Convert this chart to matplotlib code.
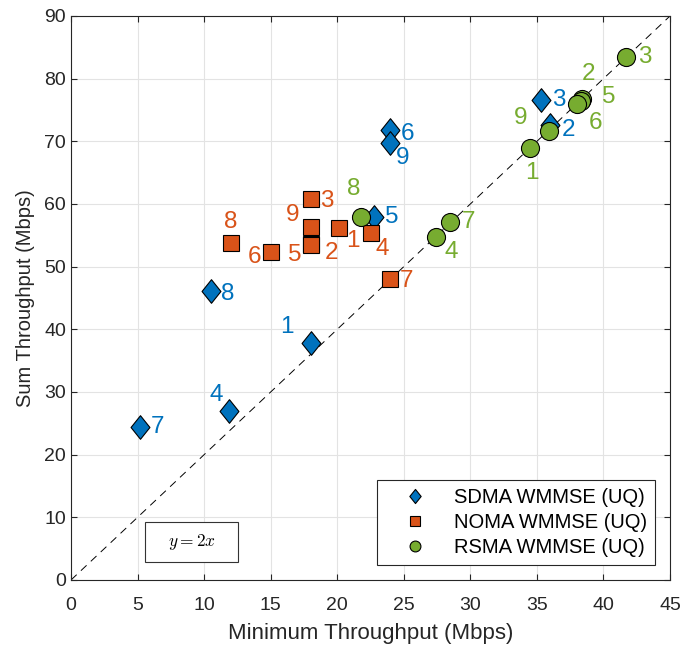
import matplotlib
matplotlib.use("Agg")
import matplotlib.pyplot as plt
from matplotlib.path import Path
from matplotlib.patches import Rectangle
import numpy as np

plt.rcParams['font.family'] = ['Liberation Sans', 'DejaVu Sans']
plt.rcParams['mathtext.fontset'] = 'cm'

labels = ['1', '2', '3', '4', '5', '6', '7', '8', '9']

sdma_x = [18.0, 36.0, 35.3, 11.9, 22.8, 24.0, 5.2, 10.5, 24.0]
sdma_y = [37.8, 72.6, 76.6, 27.0, 58.0, 71.8, 24.4, 46.1, 69.7]

noma_x = [20.1, 18.0, 18.0, 22.5, 18.0, 15.0, 24.0, 12.0, 18.0]
noma_y = [56.1, 53.6, 60.8, 55.3, 53.4, 52.4, 48.0, 53.8, 56.4]

rsma_x = [34.5, 38.4, 41.7, 27.4, 38.3, 38.0, 28.5, 21.8, 35.9]
rsma_y = [69.0, 76.8, 83.5, 54.8, 76.5, 76.0, 57.2, 57.9, 71.7]

series_names = ['SDMA WMMSE (UQ)', 'NOMA WMMSE (UQ)', 'RSMA WMMSE (UQ)']

# label offsets in pixels (dx right, dy down)
sdma_off = [(-24, -16), (18, 5), (18, 0), (-13, -16), (17, 0), (17, 4), (17, 0), (17, 3), (12, 15)]
noma_off = [(14, 13), (21, 9), (16, 2), (12, 16), (-16, 10), (-16, 5), (16, 2), (0, -21), (-18, -12)]
rsma_off = [(2, 25), (6, -25), (19, 0), (16, 15), (28, -4), (19, 19), (18, 0), (-7, -28), (-28, -13)]

c_sdma = '#0072BD'
c_noma = '#D95319'
c_rsma = '#77AC30'

diamond = Path([(0, 1), (0.8, 0), (0, -1), (-0.8, 0), (0, 1)],
               [Path.MOVETO, Path.LINETO, Path.LINETO, Path.LINETO, Path.CLOSEPOLY])

fig = plt.figure(figsize=(6.83, 6.48), dpi=100)
ax = fig.add_axes([71/683, 1-580/648, (670-71)/683, (580-16)/648])

ax.set_xlim(0, 45)
ax.set_ylim(0, 90)
ax.set_xticks(np.arange(0, 46, 5))
ax.set_yticks(np.arange(0, 91, 10))
ax.grid(True, color='#e3e3e3', linewidth=0.8)
ax.set_axisbelow(True)

ax.plot([0, 45], [0, 90], linestyle=(0, (8, 6)), color='black', linewidth=0.7, zorder=1)

h1, = ax.plot(sdma_x, sdma_y, linestyle='none', marker=diamond, markersize=17,
              markerfacecolor=c_sdma, markeredgecolor='black', markeredgewidth=0.8, zorder=3)
h2, = ax.plot(noma_x, noma_y, linestyle='none', marker='s', markersize=12,
              markerfacecolor=c_noma, markeredgecolor='black', markeredgewidth=0.8, zorder=3)
h3, = ax.plot(rsma_x, rsma_y, linestyle='none', marker='o', markersize=13,
              markerfacecolor=c_rsma, markeredgecolor='black', markeredgewidth=0.8, zorder=3)

px2pt = 72 / 100
for xs, ys, offs, col in [(sdma_x, sdma_y, sdma_off, c_sdma),
                          (noma_x, noma_y, noma_off, c_noma),
                          (rsma_x, rsma_y, rsma_off, c_rsma)]:
    for x, y, lab, (dx, dy) in zip(xs, ys, labels, offs):
        ax.annotate(lab, (x, y), xytext=(dx * px2pt, -dy * px2pt), textcoords='offset points',
                    ha='center', va='center', fontsize=17.5, color=col, zorder=4)

ax.add_patch(Rectangle((5.56, 2.87), 12.55 - 5.56, 9.25 - 2.87, facecolor='white',
                       edgecolor='#333333', linewidth=0.8, zorder=5))
ax.text(9.05, 6.06, r'$y=2x$', fontsize=12.5, ha='center', va='center', zorder=6)

leg = ax.legend([h1, h2, h3], series_names, loc='lower right', fontsize=14.5,
                frameon=True, fancybox=False, edgecolor='#262626', framealpha=1,
                borderaxespad=0.75, handlelength=3.0, handletextpad=0.4,
                borderpad=0.4, markerscale=0.6, labelspacing=0.3)
leg.get_frame().set_linewidth(0.8)

ax.set_xlabel('Minimum Throughput (Mbps)', fontsize=16, color='#262626', labelpad=7)
ax.set_ylabel('Sum Throughput (Mbps)', fontsize=14.5, color='#262626', labelpad=7)
ax.tick_params(direction='in', top=True, right=True, colors='#262626', length=4)
ax.tick_params(axis='y', labelsize=14)
ax.tick_params(axis='x', labelsize=14, pad=12)
for s in ax.spines.values():
    s.set_color('#262626')
    s.set_linewidth(0.8)

fig.savefig('out.png', dpi=100)
